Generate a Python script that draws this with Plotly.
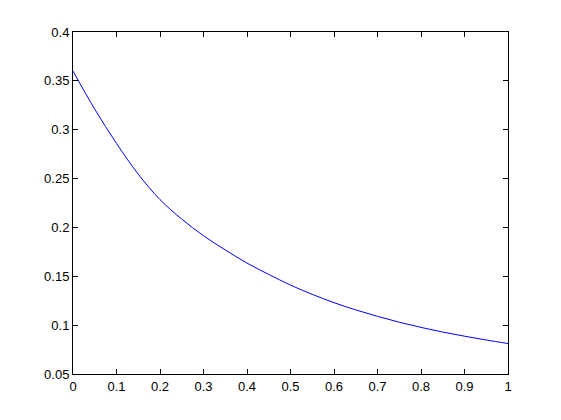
import plotly.graph_objects as go

x_values = [0.00, 0.05, 0.10, 0.15, 0.20, 0.25, 0.30, 0.35, 0.40, 0.45, 0.50,
            0.55, 0.60, 0.65, 0.70, 0.75, 0.80, 0.85, 0.90, 0.95, 1.00]
y_values = [0.360, 0.321, 0.286, 0.2545, 0.2285, 0.2085, 0.1915, 0.1770, 0.1635, 0.1519, 0.141,
            0.1315, 0.123, 0.1156, 0.109, 0.103, 0.0977, 0.0929, 0.0887, 0.0848, 0.0812]

x_tickvals = [0, 0.1, 0.2, 0.3, 0.4, 0.5, 0.6, 0.7, 0.8, 0.9, 1]
x_ticktext = ["0", "0.1", "0.2", "0.3", "0.4", "0.5", "0.6", "0.7", "0.8", "0.9", "1"]
y_tickvals = [0.05, 0.1, 0.15, 0.2, 0.25, 0.3, 0.35, 0.4]
y_ticktext = ["0.05", "0.1", "0.15", "0.2", "0.25", "0.3", "0.35", "0.4"]

fig = go.Figure()
fig.add_trace(go.Scatter(
    x=x_values, y=y_values, mode="lines",
    line=dict(color="#0000ff", width=1, shape="spline", smoothing=1.0),
    showlegend=False, hoverinfo="x+y",
))

axis_common = dict(
    showline=True, linecolor="black", linewidth=1, mirror="ticks",
    ticks="inside", ticklen=5, tickcolor="black", tickwidth=1,
    showgrid=False, zeroline=False,
    tickfont=dict(family="Liberation Sans, Arial, sans-serif", size=13, color="black"),
)

fig.update_xaxes(range=[0, 1], tickvals=x_tickvals, ticktext=x_ticktext, **axis_common)
fig.update_yaxes(range=[0.05, 0.4], tickvals=y_tickvals, ticktext=y_ticktext, **axis_common)

fig.update_layout(
    width=553, height=412,
    margin=dict(l=65, r=53, t=24, b=46),
    paper_bgcolor="white", plot_bgcolor="white",
)

fig.write_html("out.html")
